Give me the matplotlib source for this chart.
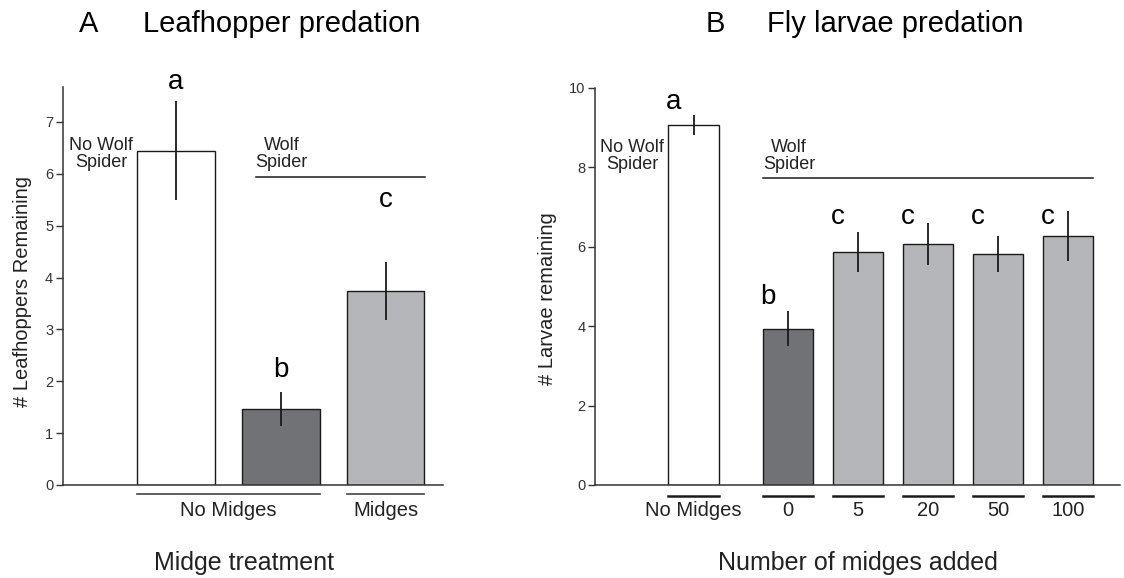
import matplotlib
matplotlib.use("Agg")
import matplotlib.pyplot as plt

plt.rcParams["font.family"] = ["Liberation Sans", "DejaVu Sans"]

# Panel A: leafhoppers remaining by midge treatment
a_means = [6.45, 1.46, 3.74]
a_errs = [0.95, 0.33, 0.56]
a_colors = ["#ffffff", "#717276", "#b5b6b9"]
a_letters = ["a", "b", "c"]
a_groups = ["No Midges", "Midges"]

# Panel B: fly larvae remaining by number of midges added
b_labels = ["No Midges", "0", "5", "20", "50", "100"]
b_means = [9.06, 3.94, 5.86, 6.07, 5.82, 6.27]
b_errs = [0.25, 0.43, 0.50, 0.54, 0.46, 0.63]
b_colors = ["#ffffff", "#717276", "#b5b6b9", "#b5b6b9", "#b5b6b9", "#b5b6b9"]
b_letters = ["a", "b", "c", "c", "c", "c"]

TXT = "#222222"
EDGE = "#1a1a1a"

fig = plt.figure(figsize=(11.24, 5.78), dpi=100)
axA = fig.add_axes([0.0560, 0.1609, 0.3381, 0.6886])
axB = fig.add_axes([0.5294, 0.1609, 0.4670, 0.6869])


def style_axis(ax, ymax, ticks):
    ax.set_ylim(0, ymax)
    ax.set_yticks(ticks)
    ax.tick_params(axis="y", direction="out", length=5, width=1.0,
                   labelsize=10.5, colors="#333333", pad=2)
    ax.tick_params(axis="x", length=0)
    ax.set_xticks([])
    for s in ("top", "right"):
        ax.spines[s].set_visible(False)
    for s in ("left", "bottom"):
        ax.spines[s].set_linewidth(1.1)
        ax.spines[s].set_color("#333333")


# ---- Panel A ----
xa = [1, 2, 3]
wa = 0.743
axA.bar(xa, a_means, width=wa, color=a_colors, edgecolor=EDGE,
        linewidth=1.0, zorder=2)
axA.errorbar(xa, a_means, yerr=a_errs, fmt="none", ecolor=EDGE,
             elinewidth=1.3, capsize=0, zorder=3)
axA.set_xlim(-0.076, 3.548)
style_axis(axA, 7.675, range(0, 8))

a_letter_y = [7.78, 2.22, 5.50]
for x, lt, ly in zip(xa, a_letters, a_letter_y):
    axA.text(x, ly, lt, ha="center", va="center", fontsize=20,
             color="black", clip_on=False)

axA.plot([1.762, 3.381], [5.93, 5.93], color=EDGE, lw=1.1, clip_on=False)
axA.text(1.762, 6.38, "Wolf\nSpider", ha="left", va="center",
         multialignment="center", fontsize=13, color=TXT, linespacing=1.05)
axA.text(0.286, 6.38, "No Wolf\nSpider", ha="center", va="center",
         multialignment="center", fontsize=13, color=TXT, linespacing=1.05)

# group bars under the x axis
tA = axA.get_xaxis_transform()
groups_a = [(xa[0] - wa / 2, xa[1] + wa / 2), (xa[2] - wa / 2, xa[2] + wa / 2)]
for (x0, x1), lab in zip(groups_a, a_groups):
    axA.plot([x0, x1], [-0.0226, -0.0226], transform=tA, color="#444444",
             lw=1.2, clip_on=False)
    axA.text((x0 + x1) / 2, -0.063, lab, transform=tA, ha="center",
             va="center", fontsize=14.5, color=TXT)

axA.set_ylabel("# Leafhoppers Remaining", fontsize=14.5, color=TXT)
axA.yaxis.set_label_coords(-0.082, 0.486)
axA.text(0.476, -0.196, "Midge treatment", transform=axA.transAxes,
         ha="center", va="center", fontsize=18, color=TXT)

# ---- Panel B ----
xb = [0.65, 2, 3, 4, 5, 6]
wb = 0.72
axB.bar(xb, b_means, width=wb, color=b_colors, edgecolor=EDGE,
        linewidth=1.0, zorder=2)
axB.errorbar(xb, b_means, yerr=b_errs, fmt="none", ecolor=EDGE,
             elinewidth=1.3, capsize=0, zorder=3)
axB.set_xlim(-0.757, 6.743)
style_axis(axB, 10, range(0, 11, 2))

b_letter_y = [9.65, 4.74, 6.75, 6.75, 6.75, 6.75]
for x, lt, ly in zip(xb, b_letters, b_letter_y):
    axB.text(x - 0.29, ly, lt, ha="center", va="center", fontsize=20,
             color="black", clip_on=False)

axB.plot([xb[1] - wb / 2, xb[-1] + wb / 2], [7.73, 7.73], color=EDGE,
         lw=1.1, clip_on=False)
axB.text(xb[1] - wb / 2, 8.29, "Wolf\nSpider", ha="left", va="center",
         multialignment="center", fontsize=13, color=TXT, linespacing=1.05)
axB.text(-0.229, 8.29, "No Wolf\nSpider", ha="center", va="center",
         multialignment="center", fontsize=13, color=TXT, linespacing=1.05)

tB = axB.get_xaxis_transform()
for x, lab in zip(xb, b_labels):
    axB.plot([x - wb / 2, x + wb / 2], [-0.028, -0.028], transform=tB,
             color=EDGE, lw=1.8, clip_on=False)
    axB.text(x, -0.063, lab, transform=tB, ha="center", va="center",
             fontsize=14.5, color=TXT)

axB.set_ylabel("# Larvae remaining", fontsize=14.5, color=TXT)
axB.yaxis.set_label_coords(-0.072, 0.47)
axB.text(0.501, -0.196, "Number of midges added", transform=axB.transAxes,
         ha="center", va="center", fontsize=18, color=TXT)

# ---- panel titles ----
fig.text(89 / 1124, 1 - 24 / 578, "A", ha="center", va="center",
         fontsize=21, color="black")
fig.text(143 / 1124, 1 - 24 / 578, "Leafhopper predation", ha="left",
         va="center", fontsize=21, color="black")
fig.text(715 / 1124, 1 - 24 / 578, "B", ha="center", va="center",
         fontsize=21, color="black")
fig.text(767 / 1124, 1 - 24 / 578, "Fly larvae predation", ha="left",
         va="center", fontsize=21, color="black")

fig.savefig("out.png", dpi=100)
